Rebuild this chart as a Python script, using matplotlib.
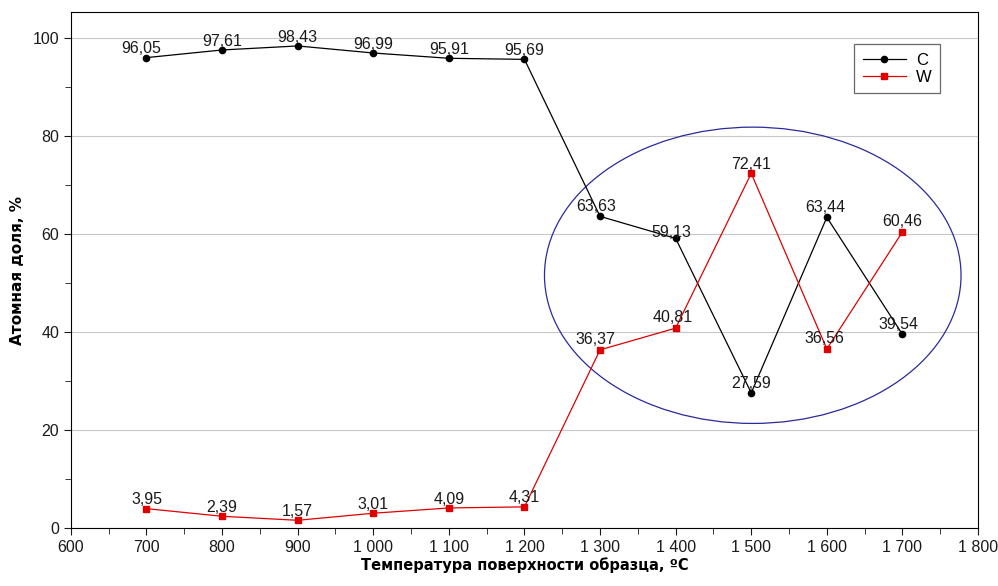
import numpy as np
import matplotlib.pyplot as plt
from matplotlib.patches import Ellipse
from matplotlib.ticker import MultipleLocator, FuncFormatter

# Температура, °C
temps = [700, 800, 900, 1000, 1100, 1200, 1300, 1400, 1500, 1600, 1700]
carbon = [96.05, 97.61, 98.43, 96.99, 95.91, 95.69, 63.63, 59.13, 27.59, 63.44, 39.54]
tungsten = [3.95, 2.39, 1.57, 3.01, 4.09, 4.31, 36.37, 40.81, 72.41, 36.56, 60.46]

# label offsets in points (dx, dy)
c_offsets = [(-4, 1), (0, 1), (0, 1), (0, 1), (0, 1), (0, 1), (-3, 2), (-3, -1), (0, 1), (-1, 2), (-3, 2)]
w_offsets = [(0, 1), (0, 1), (0, 1), (0, 1), (0, 1), (0, 1), (-3, 2), (-2, 2), (0, 1), (-2, 2), (0, 2)]

plt.rcParams['font.family'] = ['Liberation Sans', 'DejaVu Sans']

fig = plt.figure(figsize=(9.98, 5.86), dpi=100)
ax = fig.add_axes([0.071, 0.099, 0.909, 0.88])

ax.plot(temps, carbon, color='black', lw=0.9, marker='o', ms=4.5, label='C', zorder=3)
ax.plot(temps, tungsten, color='#e00000', lw=0.9, marker='s', ms=4.5, label='W', zorder=3)


def fmt(v):
    return ('%.2f' % v).replace('.', ',')


for x, y, off in zip(temps, carbon, c_offsets):
    ax.annotate(fmt(y), (x, y), xytext=off, textcoords='offset points',
                ha='center', va='bottom', fontsize=11.5, color='#1a1a1a')
for x, y, off in zip(temps, tungsten, w_offsets):
    ax.annotate(fmt(y), (x, y), xytext=off, textcoords='offset points',
                ha='center', va='bottom', fontsize=11.5, color='#1a1a1a')

ax.add_patch(Ellipse((1502, 51.6), 551, 60.5, fill=False, ec='#2a2a9a', lw=0.9, zorder=2))

ax.set_xlim(600, 1800)
ax.set_ylim(0, 105.3)
ax.xaxis.set_major_locator(MultipleLocator(100))
ax.xaxis.set_minor_locator(MultipleLocator(50))
ax.yaxis.set_major_locator(MultipleLocator(20))
ax.yaxis.set_minor_locator(MultipleLocator(10))
ax.xaxis.set_major_formatter(FuncFormatter(lambda v, p: '{:,}'.format(int(v)).replace(',', ' ')))
ax.tick_params(which='both', direction='out', labelsize=11.5, colors='#1a1a1a')
ax.tick_params(which='major', length=5)
ax.tick_params(which='minor', length=4)
ax.grid(axis='y', color='#c8c8c8', lw=0.8)
ax.set_axisbelow(True)

ax.set_xlabel('Температура поверхности образца, ºC', fontsize=10.5, fontweight='bold',
              family='DejaVu Sans', labelpad=2)
ax.set_ylabel('Атомная доля, %', fontsize=11, fontweight='bold', family='DejaVu Sans',
              labelpad=5)

leg = ax.legend(loc='upper right', bbox_to_anchor=(0.958, 0.938), borderaxespad=0,
                fontsize=12, frameon=True, fancybox=False, edgecolor='#444444',
                handlelength=2.6, handletextpad=0.6, borderpad=0.5, labelspacing=0.15)
leg.get_frame().set_linewidth(0.9)

fig.savefig('out.png', dpi=100)
